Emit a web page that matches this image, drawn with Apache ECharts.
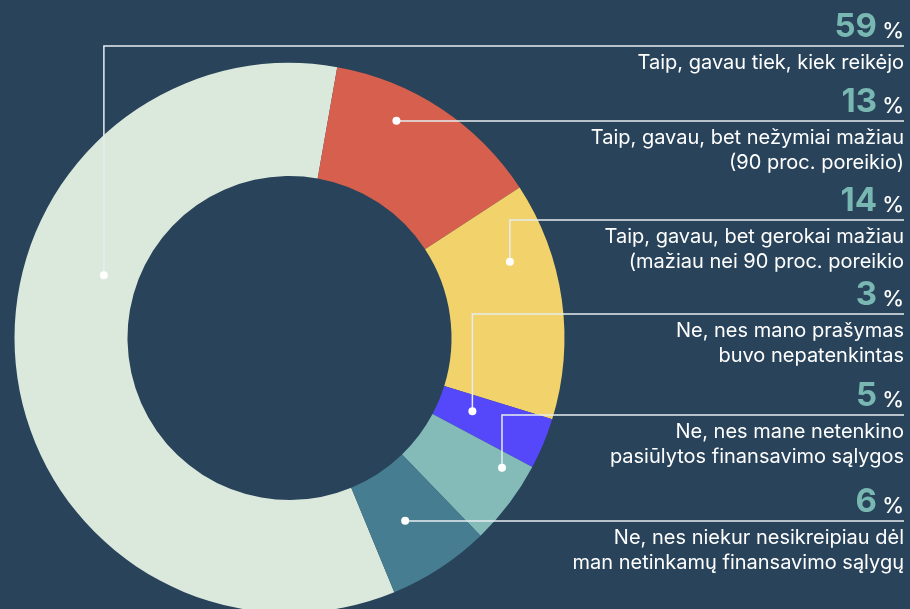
<!DOCTYPE html>
<html>
<head>
<meta charset="utf-8">
<script src="https://cdn.jsdelivr.net/npm/echarts@6/dist/echarts.min.js"></script>
<style>
  html, body { margin: 0; padding: 0; background: #28435a; }
  #chart { width: 910px; height: 609px; }
</style>
</head>
<body>
<div id="chart"></div>
<script>
const answers = [
    'Taip, gavau tiek, kiek reikėjo',
    'Taip, gavau, bet nežymiai mažiau\n(90 proc. poreikio)',
    'Taip, gavau, bet gerokai mažiau\n(mažiau nei 90 proc. poreikio',
    'Ne, nes mano prašymas\nbuvo nepatenkintas',
    'Ne, nes mane netenkino\npasiūlytos finansavimo sąlygos',
    'Ne, nes niekur nesikreipiau dėl\nman netinkamų finansavimo sąlygų'
];
const shares = [59, 13, 14, 3, 5, 6];
const sliceColors = ['#dbe9dc', '#d75f4d', '#f1d26b', '#5448fa', '#84bbb9', '#477d91'];

// y of the rule under each big number (label rows on the right)
const ruleY = [46, 121, 220, 314, 415, 521];
// where the dot sits in its slice: [fraction along the arc, fraction across the ring]
const dotPos = [[0.617, 0.30], [0.346, 0.71], [0.28, 0.63], [0.43, 0.31], [0.19, 0.77], [0.54, 0.48]];

const chart = echarts.init(document.getElementById('chart'));
chart.setOption({
    animation: false,
    backgroundColor: '#28435a',
    series: [{
        type: 'pie',
        silent: true,
        center: [289.5, 338],
        radius: [162, 275],
        startAngle: 292.4,
        clockwise: true,
        label: { show: false },
        labelLine: { show: false },
        data: shares.map((v, i) => ({ name: answers[i], value: v, itemStyle: { color: sliceColors[i] } }))
    }]
});

// leader lines, dots and texts, placed from the pie's own layout
const data = chart.getModel().getSeriesByIndex(0).getData();
const rightX = 904;
const graphics = [];
shares.forEach((v, i) => {
    const L = data.getItemLayout(i);
    const a = L.startAngle + dotPos[i][0] * (L.endAngle - L.startAngle);
    const rr = L.r0 + dotPos[i][1] * (L.r - L.r0);
    const dx = L.cx + rr * Math.cos(a);
    const dy = L.cy + rr * Math.sin(a);
    const y = ruleY[i];

    graphics.push({
        type: 'polyline', z: 10,
        shape: { points: [[rightX, y], [dx, y], [dx, dy]] },
        style: { stroke: '#e6edf0', lineWidth: 1.5, fill: null }
    });
    graphics.push({
        type: 'circle', z: 11,
        shape: { cx: dx, cy: dy, r: 4 },
        style: { fill: '#ffffff' }
    });
    graphics.push({
        type: 'text', z: 10,
        style: {
            text: String(v), x: 877, y: y - 19, align: 'right', verticalAlign: 'middle',
            fill: '#79b8b2', font: 'bold 33px Inter'
        }
    });
    graphics.push({
        type: 'text', z: 10,
        style: {
            text: '%', x: rightX, y: y - 15, align: 'right', verticalAlign: 'middle',
            fill: '#ffffff', font: '500 22px Inter'
        }
    });
    graphics.push({
        type: 'text', z: 10,
        style: {
            text: answers[i], x: rightX, y: y + 4, align: 'right', verticalAlign: 'top',
            fill: '#ffffff', font: '20px Inter', lineHeight: 25
        }
    });
});
chart.setOption({ graphic: graphics });
window.addEventListener('resize', () => chart.resize());
</script>
</body>
</html>
